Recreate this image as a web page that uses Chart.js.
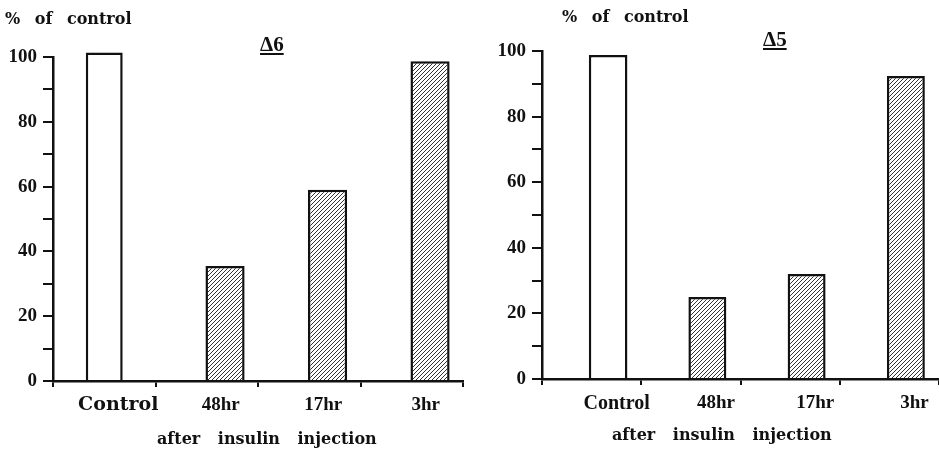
<!DOCTYPE html>
<html>
<head>
<meta charset="utf-8">
<script src="https://cdn.jsdelivr.net/npm/chart.js@4.4.1/dist/chart.umd.min.js"></script>
<style>
  html, body { margin: 0; padding: 0; background: #fff; overflow: hidden; }
  #wrap { position: relative; width: 939px; height: 451px; }
  .panel { position: absolute; top: 0; }
  .ylab { position: absolute; font: bold 16px "DejaVu Serif"; line-height: 18px; word-spacing: 9px; color: #111; white-space: pre; }
  .delta { position: absolute; font: bold 21px "Liberation Serif"; line-height: 24px; text-decoration: underline; color: #111; }
  .cap { position: absolute; font: bold 16px "DejaVu Serif"; line-height: 18px; word-spacing: 12px; color: #111; white-space: nowrap; }
</style>
</head>
<body>
<div id="wrap">
  <div class="panel" style="left:0"><canvas id="chart6" width="470" height="451"></canvas></div>
  <div class="panel" style="left:470px"><canvas id="chart5" width="469" height="451"></canvas></div>

  <div class="ylab" style="left:5px; top:10px">% of control</div>
  <div class="delta" style="left:260px; top:32px">&Delta;6</div>
  <div class="cap" style="left:157px; top:430px">after insulin injection</div>

  <div class="ylab" style="left:562px; top:8px">% of control</div>
  <div class="delta" style="left:763px; top:27px">&Delta;5</div>
  <div class="cap" style="left:612px; top:426px">after insulin injection</div>
</div>

<script>
// Data (% of control)
const categories = ['Control', '48hr', '17hr', '3hr'];
const delta6 = [101.4, 35.5, 59, 98.7];
const delta5 = [98.8, 25, 32, 92.4];
const yTickLabels = [0, 20, 40, 60, 80, 100];

const ink = '#111';

// diagonal hatching for the insulin bars
function makeHatch() {
  const c = document.createElement('canvas');
  c.width = 4;
  c.height = 4;
  const g = c.getContext('2d');
  g.fillStyle = '#fff';
  g.fillRect(0, 0, 4, 4);
  g.strokeStyle = '#333';
  g.lineWidth = 1;
  g.beginPath();
  g.moveTo(0, 4); g.lineTo(4, 0);
  g.moveTo(-1, 1); g.lineTo(1, -1);
  g.moveTo(3, 5); g.lineTo(5, 3);
  g.stroke();
  return g.createPattern(c, 'repeat');
}
const hatch = makeHatch();

function buildChart(canvasId, values, opts) {
  const controlData = values.map((v, i) => (i === 0 ? v : null));
  const insulinData = values.map((v, i) => (i === 0 ? null : v));

  const datasets = [];
  // an empty group in front pushes every bar to the right half of its slot
  if (opts.shiftAll) {
    datasets.push({ label: '', data: categories.map(() => null), stack: 'pad' });
  }
  datasets.push({
    label: 'Control',
    data: controlData,
    backgroundColor: '#fff',
    borderColor: ink,
    borderWidth: 2.5,
    skipNull: !opts.shiftAll,
    stack: opts.shiftAll ? 'bars' : undefined,
    categoryPercentage: opts.controlCat,
    barPercentage: opts.controlBar,
    clip: false
  });
  datasets.push({
    label: 'after insulin injection',
    data: insulinData,
    backgroundColor: hatch,
    borderColor: ink,
    borderWidth: 2.5,
    stack: opts.shiftAll ? 'bars' : undefined,
    categoryPercentage: opts.cat,
    barPercentage: opts.bar,
    clip: false
  });

  return new Chart(document.getElementById(canvasId), {
    type: 'bar',
    data: { labels: categories, datasets: datasets },
    options: {
      responsive: false,
      animation: false,
      devicePixelRatio: 1,
      layout: { padding: opts.padding },
      plugins: { legend: { display: false }, tooltip: { enabled: false } },
      scales: {
        x: {
          offset: true,
          border: { color: ink, width: 2.5 },
          grid: { offset: true, drawOnChartArea: false, tickLength: 6, color: ink, lineWidth: 2 },
          ticks: {
            color: ink,
            autoSkip: false,
            maxRotation: 0,
            padding: 7,
            labelOffset: opts.labelOffset,
            font: ctx => (ctx.index === 0 ? opts.controlFont : { family: 'Liberation Serif', weight: 'bold', size: 19 })
          },
          afterFit: s => { s.height = opts.xHeight; }
        },
        y: {
          min: 0,
          max: 100,
          stacked: false,
          border: { color: ink, width: 2.5 },
          grid: { drawOnChartArea: false, tickLength: 10, color: ink, lineWidth: 2 },
          ticks: {
            stepSize: 10,
            color: ink,
            padding: 6,
            font: { family: 'Liberation Serif', weight: 'bold', size: 19 },
            callback: v => (yTickLabels.includes(v) ? v : '')
          },
          afterFit: s => { s.width = opts.yWidth; }
        }
      }
    }
  });
}

buildChart('chart6', delta6, {
  shiftAll: false,
  controlCat: 1, controlBar: 0.36,
  cat: 0.714, bar: 1.07,
  padding: { top: 57, right: 7, left: 0, bottom: 0 },
  xHeight: 70, yWidth: 53,
  labelOffset: 14,
  controlFont: { family: 'DejaVu Serif', weight: 'bold', size: 19 }
});

buildChart('chart5', delta5, {
  shiftAll: true,
  controlCat: 0.665, controlBar: 1.17,
  cat: 0.665, bar: 1.15,
  padding: { top: 51, right: 0, left: 0, bottom: 0 },
  xHeight: 72, yWidth: 72,
  labelOffset: 25,
  controlFont: { family: 'Liberation Serif', weight: 'bold', size: 20 }
});
</script>
</body>
</html>
